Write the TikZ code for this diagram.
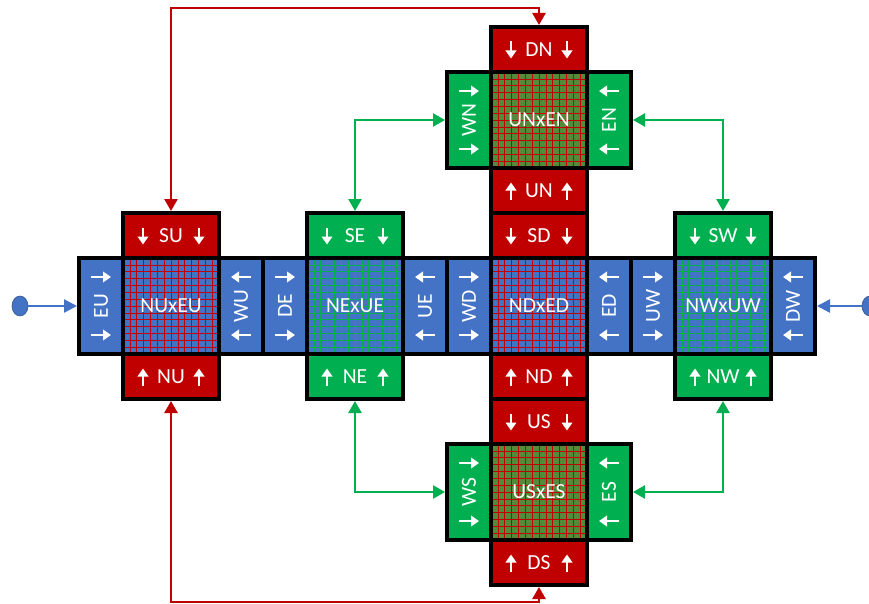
\documentclass[tikz,border=0pt]{standalone}
\usepackage{fontspec}
\setmainfont{Carlito}
\usetikzlibrary{arrows.meta,shapes.geometric}
\definecolor{cred}{HTML}{C00000}
\definecolor{cgreen}{HTML}{00B050}
\definecolor{cblue}{HTML}{4472C4}
\definecolor{colive}{HTML}{548A3C}
\tikzset{
  box/.style={draw=black, line width=4pt, inner sep=0pt, text=white,
    font=\fontsize{21.5}{25}\selectfont},
  hbox/.style={box, minimum width=96pt, minimum height=45pt, fill=#1},
  wbox/.style={box, minimum width=44pt, minimum height=96pt, fill=#1},
  gbox/.style 2 args={box, minimum width=96pt, minimum height=96pt, fill=#1,
    path picture={\foreach \i in {1,...,13} {
      \draw[#2, line width=0.7pt]
        ([xshift=\i*6.857pt]path picture bounding box.south west) --
        ([xshift=\i*6.857pt]path picture bounding box.north west);
      \draw[#2, line width=0.7pt]
        ([yshift=\i*6.857pt]path picture bounding box.south west) --
        ([yshift=\i*6.857pt]path picture bounding box.south east);}}},
  warrow/.style={draw=white, line width=2.8pt, -{Triangle[width=10.5pt,length=8pt]}},
  conn/.style={line width=2.4pt, {Triangle[width=13pt,length=12pt]}-{Triangle[width=13pt,length=12pt]}},
  bconn/.style={draw=cblue, line width=2.4pt, -{Triangle[width=13pt,length=13pt]}},
  inlet/.style={ellipse, draw=cblue!75!black, line width=0.6pt, fill=cblue,
    minimum width=16pt, minimum height=20pt, inner sep=0pt}
}
\begin{document}
\begin{tikzpicture}[x=1pt,y=-1pt]
\useasboundingbox (0,0) rectangle (869,604);
% main row
\node[wbox=cblue] (EU) at (101,306) {\rotatebox{90}{EU}};
\node[gbox={cblue}{cred}] (NUxEU) at (171,306) {NUxEU};
\node[wbox=cblue] (WU) at (241,306) {\rotatebox{90}{WU}};
\node[wbox=cblue] (DE) at (285,306) {\rotatebox{90}{DE}};
\node[gbox={cblue}{cgreen}] (NExUE) at (355,306) {NExUE};
\node[wbox=cblue] (UE) at (425,306) {\rotatebox{90}{UE}};
\node[wbox=cblue] (WD) at (469,306) {\rotatebox{90}{WD}};
\node[gbox={cblue}{cred}] (NDxED) at (539,306) {NDxED};
\node[wbox=cblue] (ED) at (609,306) {\rotatebox{90}{ED}};
\node[wbox=cblue] (UW) at (653,306) {\rotatebox{90}{UW}};
\node[gbox={cblue}{cgreen}] (NWxUW) at (723,306) {NWxUW};
\node[wbox=cblue] (DW) at (793,306) {\rotatebox{90}{DW}};
% top / bottom of grids
\node[hbox=cred] (SU) at (171,235.5) {SU};
\node[hbox=cred] (NU) at (171,376.5) {NU};
\node[hbox=cgreen] (SE) at (355,235.5) {SE};
\node[hbox=cgreen] (NE) at (355,376.5) {NE};
\node[hbox=cgreen] (SW) at (723,235.5) {SW};
\node[hbox=cgreen] (NW) at (723,376.5) {NW};
% centre column
\node[hbox=cred] (SD) at (539,235.5) {SD};
\node[hbox=cred] (UN) at (539,190.5) {UN};
\node[gbox={colive}{cred}] (UNxEN) at (539,120) {UNxEN};
\node[hbox=cred] (DN) at (539,49.5) {DN};
\node[wbox=cgreen] (WN) at (469,120) {\rotatebox{90}{WN}};
\node[wbox=cgreen] (EN) at (609,120) {\rotatebox{90}{EN}};
\node[hbox=cred] (ND) at (539,376.5) {ND};
\node[hbox=cred] (US) at (539,421.5) {US};
\node[gbox={colive}{cred}] (USxES) at (539,492) {USxES};
\node[hbox=cred] (DS) at (539,562.5) {DS};
\node[wbox=cgreen] (WS) at (469,492) {\rotatebox{90}{WS}};
\node[wbox=cgreen] (ES) at (609,492) {\rotatebox{90}{ES}};
% white arrows
\foreach \n in {SU,SE,SW,SD,DN,US}
  \foreach \dx in {-28,28}
    \draw[warrow] ([shift={(\dx,-8)}]\n.center) -- ++(0,17);
\foreach \n in {NU,NE,NW,ND,UN,DS}
  \foreach \dx in {-28,28}
    \draw[warrow] ([shift={(\dx,9)}]\n.center) -- ++(0,-17);
\foreach \n in {EU,DE,WD,UW,WN,WS}
  \foreach \dy in {-29,29}
    \draw[warrow] ([shift={(-10,\dy)}]\n.center) -- ++(20,0);
\foreach \n in {WU,UE,ED,DW,EN,ES}
  \foreach \dy in {-29,29}
    \draw[warrow] ([shift={(10,\dy)}]\n.center) -- ++(-20,0);
% connectors
\coordinate (topy) at (0,8);
\coordinate (boty) at (0,602);
\draw[conn, cred] (SU.north) -- (SU.north |- topy) -| (DN.north);
\draw[conn, cred] (NU.south) -- (NU.south |- boty) -| (DS.south);
\draw[conn, cgreen] (SE.north) |- (WN.west);
\draw[conn, cgreen] (EN.east) -| (SW.north);
\draw[conn, cgreen] (NE.south) |- (WS.west);
\draw[conn, cgreen] (ES.east) -| (NW.south);
% inlets
\node[inlet] (inL) at (20,306) {};
\node[inlet] (inR) at (870,306) {};
\draw[bconn] (inL) -- (EU.west);
\draw[bconn] (inR) -- (DW.east);
\end{tikzpicture}
\end{document}
